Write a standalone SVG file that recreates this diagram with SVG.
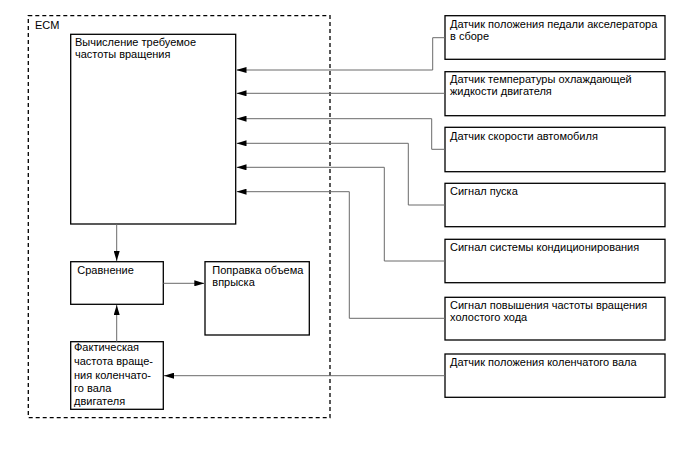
<svg xmlns="http://www.w3.org/2000/svg" width="688" height="463" viewBox="0 0 688 463">
<defs>
<style>
.box{fill:#fff;stroke:#000;stroke-width:1.3}
.ecm{fill:none;stroke:#000;stroke-width:1.3;stroke-dasharray:4 3}
.t{font-family:"Liberation Sans",Arial,sans-serif;font-size:11px;fill:#000}
.c{fill:none;stroke:#6a6a6a;stroke-width:1}
.a{fill:none;stroke:#6a6a6a;stroke-width:1;marker-end:url(#ah)}
</style>
<marker id="ah" viewBox="0 0 10 6" refX="10" refY="3" markerWidth="10" markerHeight="6" markerUnits="userSpaceOnUse" orient="auto">
<path d="M0,0 L10,3 L0,6 Z" fill="#000"/>
</marker>
</defs>
<rect width="688" height="463" fill="#fff"/>
<g id="ecm">
<rect class="ecm" x="28.3" y="15.7" width="301.7" height="402"/>
<text class="t" x="35" y="29">ECM</text>
</g>
<g id="calc">
<rect class="box" x="70.7" y="34.3" width="165" height="189.7"/>
<text class="t" x="75" y="46">Вычисление требуемое</text>
<text class="t" x="75" y="57.5">частоты вращения</text>
</g>
<g id="compare">
<rect class="box" x="70.7" y="261.7" width="92.6" height="42.6"/>
<text class="t" x="77.3" y="274.3">Сравнение</text>
</g>
<g id="correction">
<rect class="box" x="205" y="261.7" width="104.3" height="73.3"/>
<text class="t" x="212.3" y="273.5">Поправка объема</text>
<text class="t" x="212.3" y="285.7">впрыска</text>
</g>
<g id="actual">
<rect class="box" x="70.7" y="341.7" width="92.6" height="67.6"/>
<text class="t" x="74" y="351">Фактическая</text>
<text class="t" x="74" y="365">частота враще-</text>
<text class="t" x="74" y="378.5">ния коленчато-</text>
<text class="t" x="74" y="392">го вала</text>
<text class="t" x="74" y="405.3">двигателя</text>
</g>
<g id="s1">
<rect class="box" x="445" y="15.7" width="220" height="43.6"/>
<text class="t" x="450" y="27.5">Датчик положения педали акселератора</text>
<text class="t" x="450" y="39.5">в сборе</text>
</g>
<g id="s2">
<rect class="box" x="445" y="71.7" width="220" height="44"/>
<text class="t" x="450" y="83">Датчик температуры охлаждающей</text>
<text class="t" x="450" y="94.5">жидкости двигателя</text>
</g>
<g id="s3">
<rect class="box" x="445" y="127.3" width="220" height="44.4"/>
<text class="t" x="450" y="139.5">Датчик скорости автомобиля</text>
</g>
<g id="s4">
<rect class="box" x="445" y="183.3" width="220" height="43.4"/>
<text class="t" x="450" y="195">Сигнал пуска</text>
</g>
<g id="s5">
<rect class="box" x="445" y="239.3" width="220" height="43.4"/>
<text class="t" x="450" y="251">Сигнал системы кондиционирования</text>
</g>
<g id="s6">
<rect class="box" x="445" y="297.3" width="220" height="42.7"/>
<text class="t" x="450" y="309">Сигнал повышения частоты вращения</text>
<text class="t" x="450" y="321">холостого хода</text>
</g>
<g id="s7">
<rect class="box" x="445" y="354" width="220" height="43.3"/>
<text class="t" x="450" y="366">Датчик положения коленчатого вала</text>
</g>
<g id="connectors">
<path class="a" d="M445,37.7 H432.7 V70 H236.5"/>
<path class="a" d="M445,93.3 H236.5"/>
<path class="a" d="M445,149.3 H431.7 V118.7 H236.5"/>
<path class="a" d="M445,205 H408.3 V143.3 H236.5"/>
<path class="a" d="M445,261 H384.3 V167.3 H236.5"/>
<path class="a" d="M445,318.3 H349.3 V191.7 H236.5"/>
<path class="a" d="M445,375.7 H164"/>
<path class="a" d="M116.7,224 V261"/>
<path class="a" d="M116.7,341.7 V305"/>
<path class="a" d="M163.3,283.3 H204.3"/>
</g>
</svg>
